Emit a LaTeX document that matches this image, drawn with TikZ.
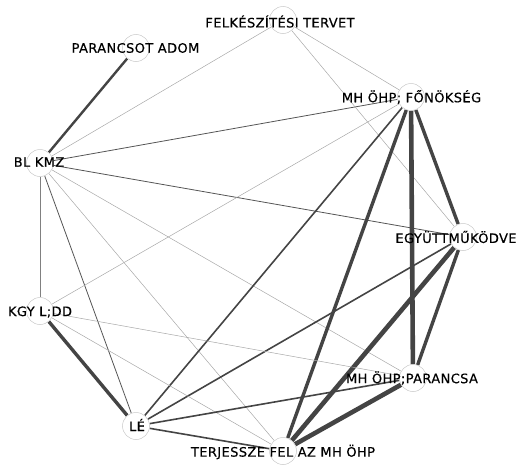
\documentclass[tikz,border=0pt]{standalone}
\usepackage{fontspec}
\setmainfont[LetterSpace=3,FakeBold=0.4]{DejaVu Sans}
\pgfdeclarelayer{bg}
\pgfsetlayers{bg,main}
\definecolor{edgedark}{HTML}{444444}
\definecolor{edgemid}{HTML}{555555}
\definecolor{edgelight}{HTML}{A8A8A8}
\definecolor{ringgray}{HTML}{C8C8C8}
\tikzset{
  vtx/.style={circle, draw=ringgray, line width=0.5pt, fill=white, minimum size=27pt, inner sep=0pt},
  lbl/.style={font=\fontsize{13}{15}\selectfont, text=black, inner sep=0pt, anchor=center},
  ethin/.style={draw=edgelight, line width=0.5pt},
  egray/.style={draw=black!50, line width=0.6pt},
  edk/.style={draw=edgemid, line width=0.8pt},
  emed/.style={draw=edgedark, line width=1.6pt},
  ebold/.style={draw=edgedark, line width=2.4pt},
  ethick/.style={draw=edgedark, line width=3.4pt},
  eheavy/.style={draw=edgedark, line width=4.6pt},
}
\begin{document}
\begin{tikzpicture}[x=1pt,y=-1pt]
\useasboundingbox (0,0) rectangle (520,466);
% vertices
\node[vtx] (felk) at (283,20) {};
\node[vtx] (pao) at (136,48) {};
\node[vtx] (fon) at (411,97) {};
\node[vtx] (bl) at (40,163) {};
\node[vtx] (egy) at (463,237) {};
\node[vtx] (kgy) at (40,311) {};
\node[vtx] (par) at (413,378) {};
\node[vtx] (le) at (136,426) {};
\node[vtx] (terj) at (283,451) {};
% edges
\begin{pgfonlayer}{bg}
\draw[ebold] (bl) -- (pao);
\draw[ethin] (bl) -- (felk);
\draw[edk] (bl) -- (fon);
\draw[edk] (bl) -- (egy);
\draw[egray] (bl) -- (kgy);
\draw[edk] (bl) -- (le);
\draw[ethin] (bl) -- (terj);
\draw[ethin] (bl) -- (par);
\draw[ethin] (felk) -- (fon);
\draw[ethin] (felk) -- (egy);
\draw[ethin] (fon) -- (kgy);
\draw[emed] (fon) -- (le);
\draw[ethick] (fon) -- (terj);
\draw[eheavy] (fon) -- (par);
\draw[ethick] (fon) -- (egy);
\draw[emed] (egy) -- (le);
\draw[eheavy] (egy) -- (terj);
\draw[ethick] (egy) -- (par);
\draw[ethick] (kgy) -- (le);
\draw[ethin] (kgy) -- (par);
\draw[ethin] (kgy) -- (terj);
\draw[emed] (le) -- (par);
\draw[emed] (le) -- (terj);
\draw[eheavy] (par) -- (terj);
\end{pgfonlayer}
% labels
\node[lbl] (tfelk) at (280,21.5) {FELKÉSZÍTÉSI TERVET};
\node[lbl] (tpao) at (135.5,48) {PARANCSOT ADOM};
\node[lbl] (tfon) at (411.5,97) {MH ÖHP; FŐNÖKSÉG};
\node[lbl] (tbl) at (39,162) {BL KMZ};
\node[lbl] (tegy) at (456,237) {EGYÜTTMŰKÖDVE};
\node[lbl] (tkgy) at (40,312) {KGY L;DD};
\node[lbl] (tpar) at (412,378) {MH ÖHP;PARANCSA};
\node[lbl] (tle) at (137,425) {LÉ};
\node[lbl] (tterj) at (283,452) {TERJESSZE FEL AZ MH ÖHP};
\end{tikzpicture}
\end{document}
